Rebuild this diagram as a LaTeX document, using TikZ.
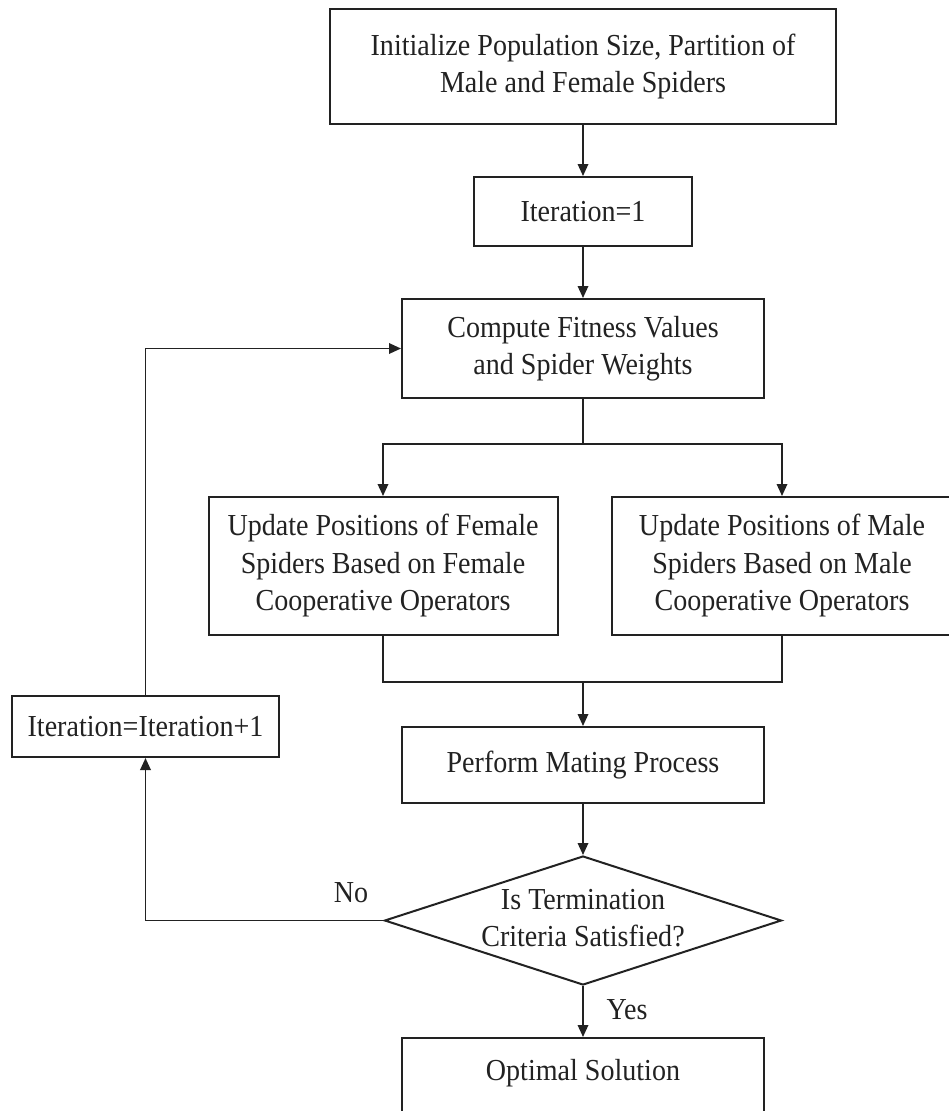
\documentclass[tikz,border=0pt]{standalone}
\usepackage{fontspec}
\setmainfont{Liberation Serif}[FakeStretch=0.92]
\usetikzlibrary{arrows.meta,shapes.geometric}
\definecolor{ink}{HTML}{222222}
\begin{document}
\begin{tikzpicture}[x=1pt,y=-1pt,
  every node/.style={text=ink,font=\fontsize{30.5}{37.5}\selectfont},
  box/.style={draw=ink,line width=2pt,rectangle,inner sep=0pt,align=center},
  conn/.style={draw=ink,line width=1.8pt},
  arr/.style={conn,-{Triangle[length=12pt,width=10.5pt]}},
  lbl/.style={inner sep=0pt}
]
\useasboundingbox (0,0) rectangle (949,1111);
\fill[white] (0,0) rectangle (949,1111);
\clip (0,0) rectangle (949,1111);

\node[box,minimum width=506pt,minimum height=115pt] (top) at (583,66.5)
  {Initialize Population Size, Partition of\\Male and Female Spiders};
\node[box,minimum width=218pt,minimum height=69pt] (it1) at (583,211.5) {Iteration=1};
\node[box,minimum width=362pt,minimum height=99pt] (comp) at (583,348.5)
  {Compute Fitness Values\\and Spider Weights};
\node[box,minimum width=349pt,minimum height=138pt] (left) at (383,566)
  {Update Positions of Female\\Spiders Based on Female\\Cooperative Operators};
\node[box,minimum width=340pt,minimum height=138pt] (right) at (782,566)
  {Update Positions of Male\\Spiders Based on Male\\Cooperative Operators};
\node[box,minimum width=362pt,minimum height=76pt] (perf) at (583,765) {Perform Mating Process};
\node[draw=ink,line width=2pt,diamond,aspect=3.08,inner sep=0pt,
  minimum width=397pt,minimum height=129pt] (dia) at (583,920.5) {};
\node[lbl,align=center] (diat) at (583,918) {Is Termination\\Criteria Satisfied?};
\node[box,minimum width=362pt,minimum height=80pt] (opt) at (583,1078) {};
\node[lbl] (optt) at (583,1073) {Optimal Solution};
\node[box,minimum width=267pt,minimum height=61pt] (itp) at (145.5,726.5) {Iteration=Iteration+1};

\node[lbl] (no) at (351,893) {No};
\node[lbl] (yes) at (627,1010) {Yes};

\coordinate (sp) at (583,444);
\coordinate (mg) at (583,682);

\draw[arr] (top.south) -- (it1.north);
\draw[arr] (it1.south) -- (comp.north);
\draw[conn] (comp.south) -- (sp);
\draw[arr] (sp) -| (left.north);
\draw[arr] (sp) -| (right.north);
\draw[conn] (left.south) |- (mg);
\draw[conn] (right.south) |- (mg);
\draw[arr] (mg) -- (perf.north);
\draw[arr] (perf.south) -- (dia.north);
\draw[arr] (dia.south) -- (opt.north);
\draw[arr] (dia.west) -| (itp.south);
\draw[arr] (itp.north) |- (comp.west);
\end{tikzpicture}
\end{document}
